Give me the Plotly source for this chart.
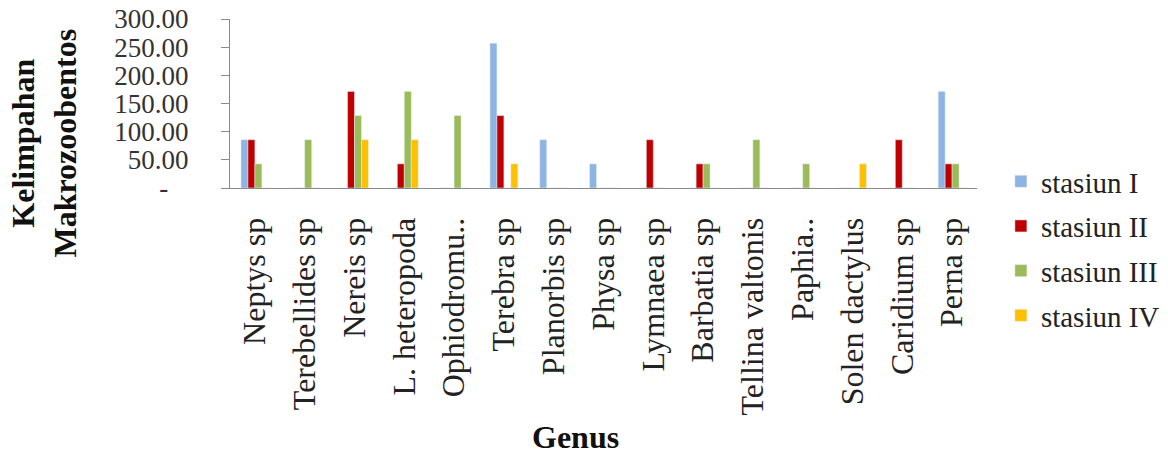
import plotly.graph_objects as go

genus = ["Neptys sp", "Terebellides sp", "Nereis sp", "L. heteropoda", "Ophiodromu..",
         "Terebra sp", "Planorbis sp", "Physa sp", "Lymnaea sp", "Barbatia sp",
         "Tellina valtonis", "Paphia..", "Solen dactylus", "Caridium sp", "Perna sp"]
stasiun_1 = [85.71, 0, 0, 0, 0, 257.14, 85.71, 42.86, 0, 0, 0, 0, 0, 0, 171.43]
stasiun_2 = [85.71, 0, 171.43, 42.86, 0, 128.57, 0, 0, 85.71, 42.86, 0, 0, 0, 85.71, 42.86]
stasiun_3 = [42.86, 85.71, 128.57, 171.43, 128.57, 0, 0, 0, 0, 42.86, 85.71, 42.86, 0, 0, 42.86]
stasiun_4 = [0, 0, 85.71, 85.71, 0, 42.86, 0, 0, 0, 0, 0, 0, 42.86, 0, 0]
series_names = ["stasiun I", "stasiun II", "stasiun III", "stasiun IV"]
colors = ["#8EB4E3", "#C00000", "#9BBB59", "#FFC000"]
y_ticks = [0, 50, 100, 150, 200, 250, 300]
y_labels = ["-", "50.00", "100.00", "150.00", "200.00", "250.00", "300.00"]

NB = "\u00a0"
y_ticktext = [y_labels[0] + NB * 7] + [t + NB * 4 for t in y_labels[1:]]

FONT = "Liberation Serif"
fig = go.Figure()
for i, (name, vals) in enumerate(zip(series_names, [stasiun_1, stasiun_2, stasiun_3, stasiun_4])):
    fig.add_trace(go.Bar(x=genus, y=vals, name=name, marker_color=colors[i],
                         legendgroup=name))

fig.update_layout(
    width=1168, height=452,
    margin=dict(l=222, r=199, t=11, b=272),
    paper_bgcolor="white", plot_bgcolor="white",
    barmode="group", bargap=0.44, bargroupgap=0,
    font=dict(family=FONT, color="#222222"),
    legend=dict(x=1.032, y=0.19, xanchor="left", yanchor="top",
                font=dict(size=29, family=FONT, color="#222222"),
                tracegroupgap=4, itemwidth=30, maxheight=400),
    showlegend=True,
)
fig.update_xaxes(showline=True, linecolor="#8a8a8a", linewidth=1, ticks="",
                 tickangle=-90, tickfont=dict(size=32, family=FONT, color="#222222"),
                 ticklabelstandoff=16, automargin=False)
fig.update_yaxes(range=[0, 300], tickvals=y_ticks, ticktext=y_ticktext,
                 showline=True, linecolor="#8a8a8a", linewidth=1, ticks="outside",
                 ticklen=8, tickcolor="#8a8a8a", showgrid=False, zeroline=False,
                 tickfont=dict(size=27, family=FONT, color="#333333"),
                 ticklabeloverflow="allow", automargin=False)
fig.add_annotation(text="<b>Kelimpahan<br>Makrozoobentos</b>", textangle=-90,
                   xref="paper", yref="paper", x=-0.2483, y=0.266,
                   xanchor="center", yanchor="middle", showarrow=False,
                   font=dict(size=32, family=FONT, color="#111111"))
fig.add_annotation(text="<b>Genus</b>", xref="paper", yref="paper",
                   x=0.463, y=-1.475, xanchor="center", yanchor="middle", showarrow=False,
                   font=dict(size=32, family=FONT, color="#111111"))
fig.write_html("out.html")
